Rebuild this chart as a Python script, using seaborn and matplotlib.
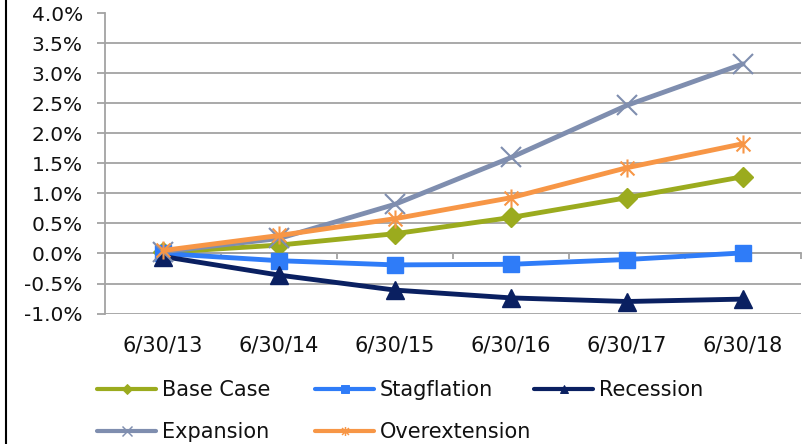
import numpy as np
import pandas as pd
import matplotlib
matplotlib.use("Agg")
import matplotlib.pyplot as plt
from matplotlib.path import Path
from matplotlib.lines import Line2D
from matplotlib.ticker import FuncFormatter, MultipleLocator
import seaborn as sns

# Scenario paths (percent)
dates = ["6/30/13", "6/30/14", "6/30/15", "6/30/16", "6/30/17", "6/30/18"]
base_case = [0.02, 0.14, 0.33, 0.60, 0.93, 1.28]
stagflation = [0.00, -0.12, -0.19, -0.18, -0.10, 0.01]
recession = [-0.05, -0.36, -0.61, -0.74, -0.80, -0.76]
expansion = [0.03, 0.25, 0.82, 1.60, 2.47, 3.16]
overextension = [0.05, 0.30, 0.58, 0.93, 1.43, 1.83]

names = ["Base Case", "Stagflation", "Recession", "Expansion", "Overextension"]
series = [base_case, stagflation, recession, expansion, overextension]
colors = ["#9BAB1E", "#2F7CF8", "#0A2061", "#7F8EAF", "#F79646"]

# Excel-style asterisk: an "x" crossed by a vertical stroke
asterisk = Path(
    [(-1, -1), (1, 1), (-1, 1), (1, -1), (0, -1.3), (0, 1.3)],
    [Path.MOVETO, Path.LINETO, Path.MOVETO, Path.LINETO, Path.MOVETO, Path.LINETO],
)
markers = ["D", "s", "^", "x", asterisk]
msizes = [10, 12, 12.5, 14, 13]
mews = [1, 1, 1, 1.5, 1.5]

sns.set_style("white")
plt.rcParams["font.family"] = ["DejaVu Sans"]

fig = plt.figure(figsize=(8.09, 4.44), dpi=100)
ax = fig.add_axes([105 / 809, 1 - 313.5 / 444, 696 / 809, 300 / 444])

pos = np.arange(len(dates))
handles = []
for name, vals, c, m, ms, mw in zip(names, series, colors, markers, msizes, mews):
    df = pd.DataFrame({"pos": pos, "val": vals})
    sns.lineplot(data=df, x="pos", y="val", ax=ax, color=c, linewidth=3.5,
                 marker=m, markersize=ms, markeredgecolor=c, markerfacecolor=c,
                 markeredgewidth=mw, legend=False, zorder=3)
    handles.append(Line2D([], [], color=c, linewidth=3.0, marker=m,
                          markersize=ms * 0.5, markeredgecolor=c,
                          markerfacecolor=c, markeredgewidth=mw * 0.7,
                          solid_capstyle="round"))

grid_c = "#A3A3A3"
text_c = "#111111"
ax.set_ylim(-1.0, 4.0)
ax.set_xlim(-0.5, len(dates) - 0.5)
ax.yaxis.set_major_locator(MultipleLocator(0.5))
ax.yaxis.set_major_formatter(FuncFormatter(lambda v, p: f"{v:.1f}%"))
ax.grid(axis="y", color=grid_c, linewidth=1.3)
ax.grid(axis="x", visible=False)
ax.set_axisbelow(True)
for s in ["top", "right", "bottom"]:
    ax.spines[s].set_visible(False)
ax.spines["left"].set_color(grid_c)
ax.spines["left"].set_linewidth(1.3)
ax.set_xticks(pos, dates)
ax.tick_params(axis="x", length=0, pad=16, labelsize=15, colors=text_c)
ax.tick_params(axis="y", length=6, width=1.3, color=grid_c, pad=10,
               labelsize=14.5, labelcolor=text_c, left=True)
ax.set_xlabel("")
ax.set_ylabel("")

# Category axis crossing at 0%
zero_axis = ax.secondary_xaxis(0.2)
zero_axis.set_xticks(np.arange(-0.5, len(dates), 1.0))
zero_axis.tick_params(length=4, width=1.3, color=grid_c, labelbottom=False)
zero_axis.spines["bottom"].set_color(grid_c)
zero_axis.spines["bottom"].set_linewidth(1.3)

# Legend laid out in fixed-width columns
leg_kw = dict(frameon=False, fontsize=15, handlelength=2.85, handletextpad=0.25,
              labelspacing=1.05, borderpad=0, borderaxespad=0, loc="center left",
              labelcolor=text_c)
cols = [([0, 3], 97), ([1, 4], 315), ([2], 534)]
for idx, xpix in cols:
    ycen = 411 if len(idx) == 2 else 390
    fig.legend([handles[i] for i in idx], [names[i] for i in idx],
               bbox_to_anchor=(xpix / 809, 1 - ycen / 444), **leg_kw)

fig.add_artist(Line2D([6 / 809, 6 / 809], [0, 1], color="black", linewidth=1.5,
                      transform=fig.transFigure))

fig.savefig("out.png", dpi=100)
